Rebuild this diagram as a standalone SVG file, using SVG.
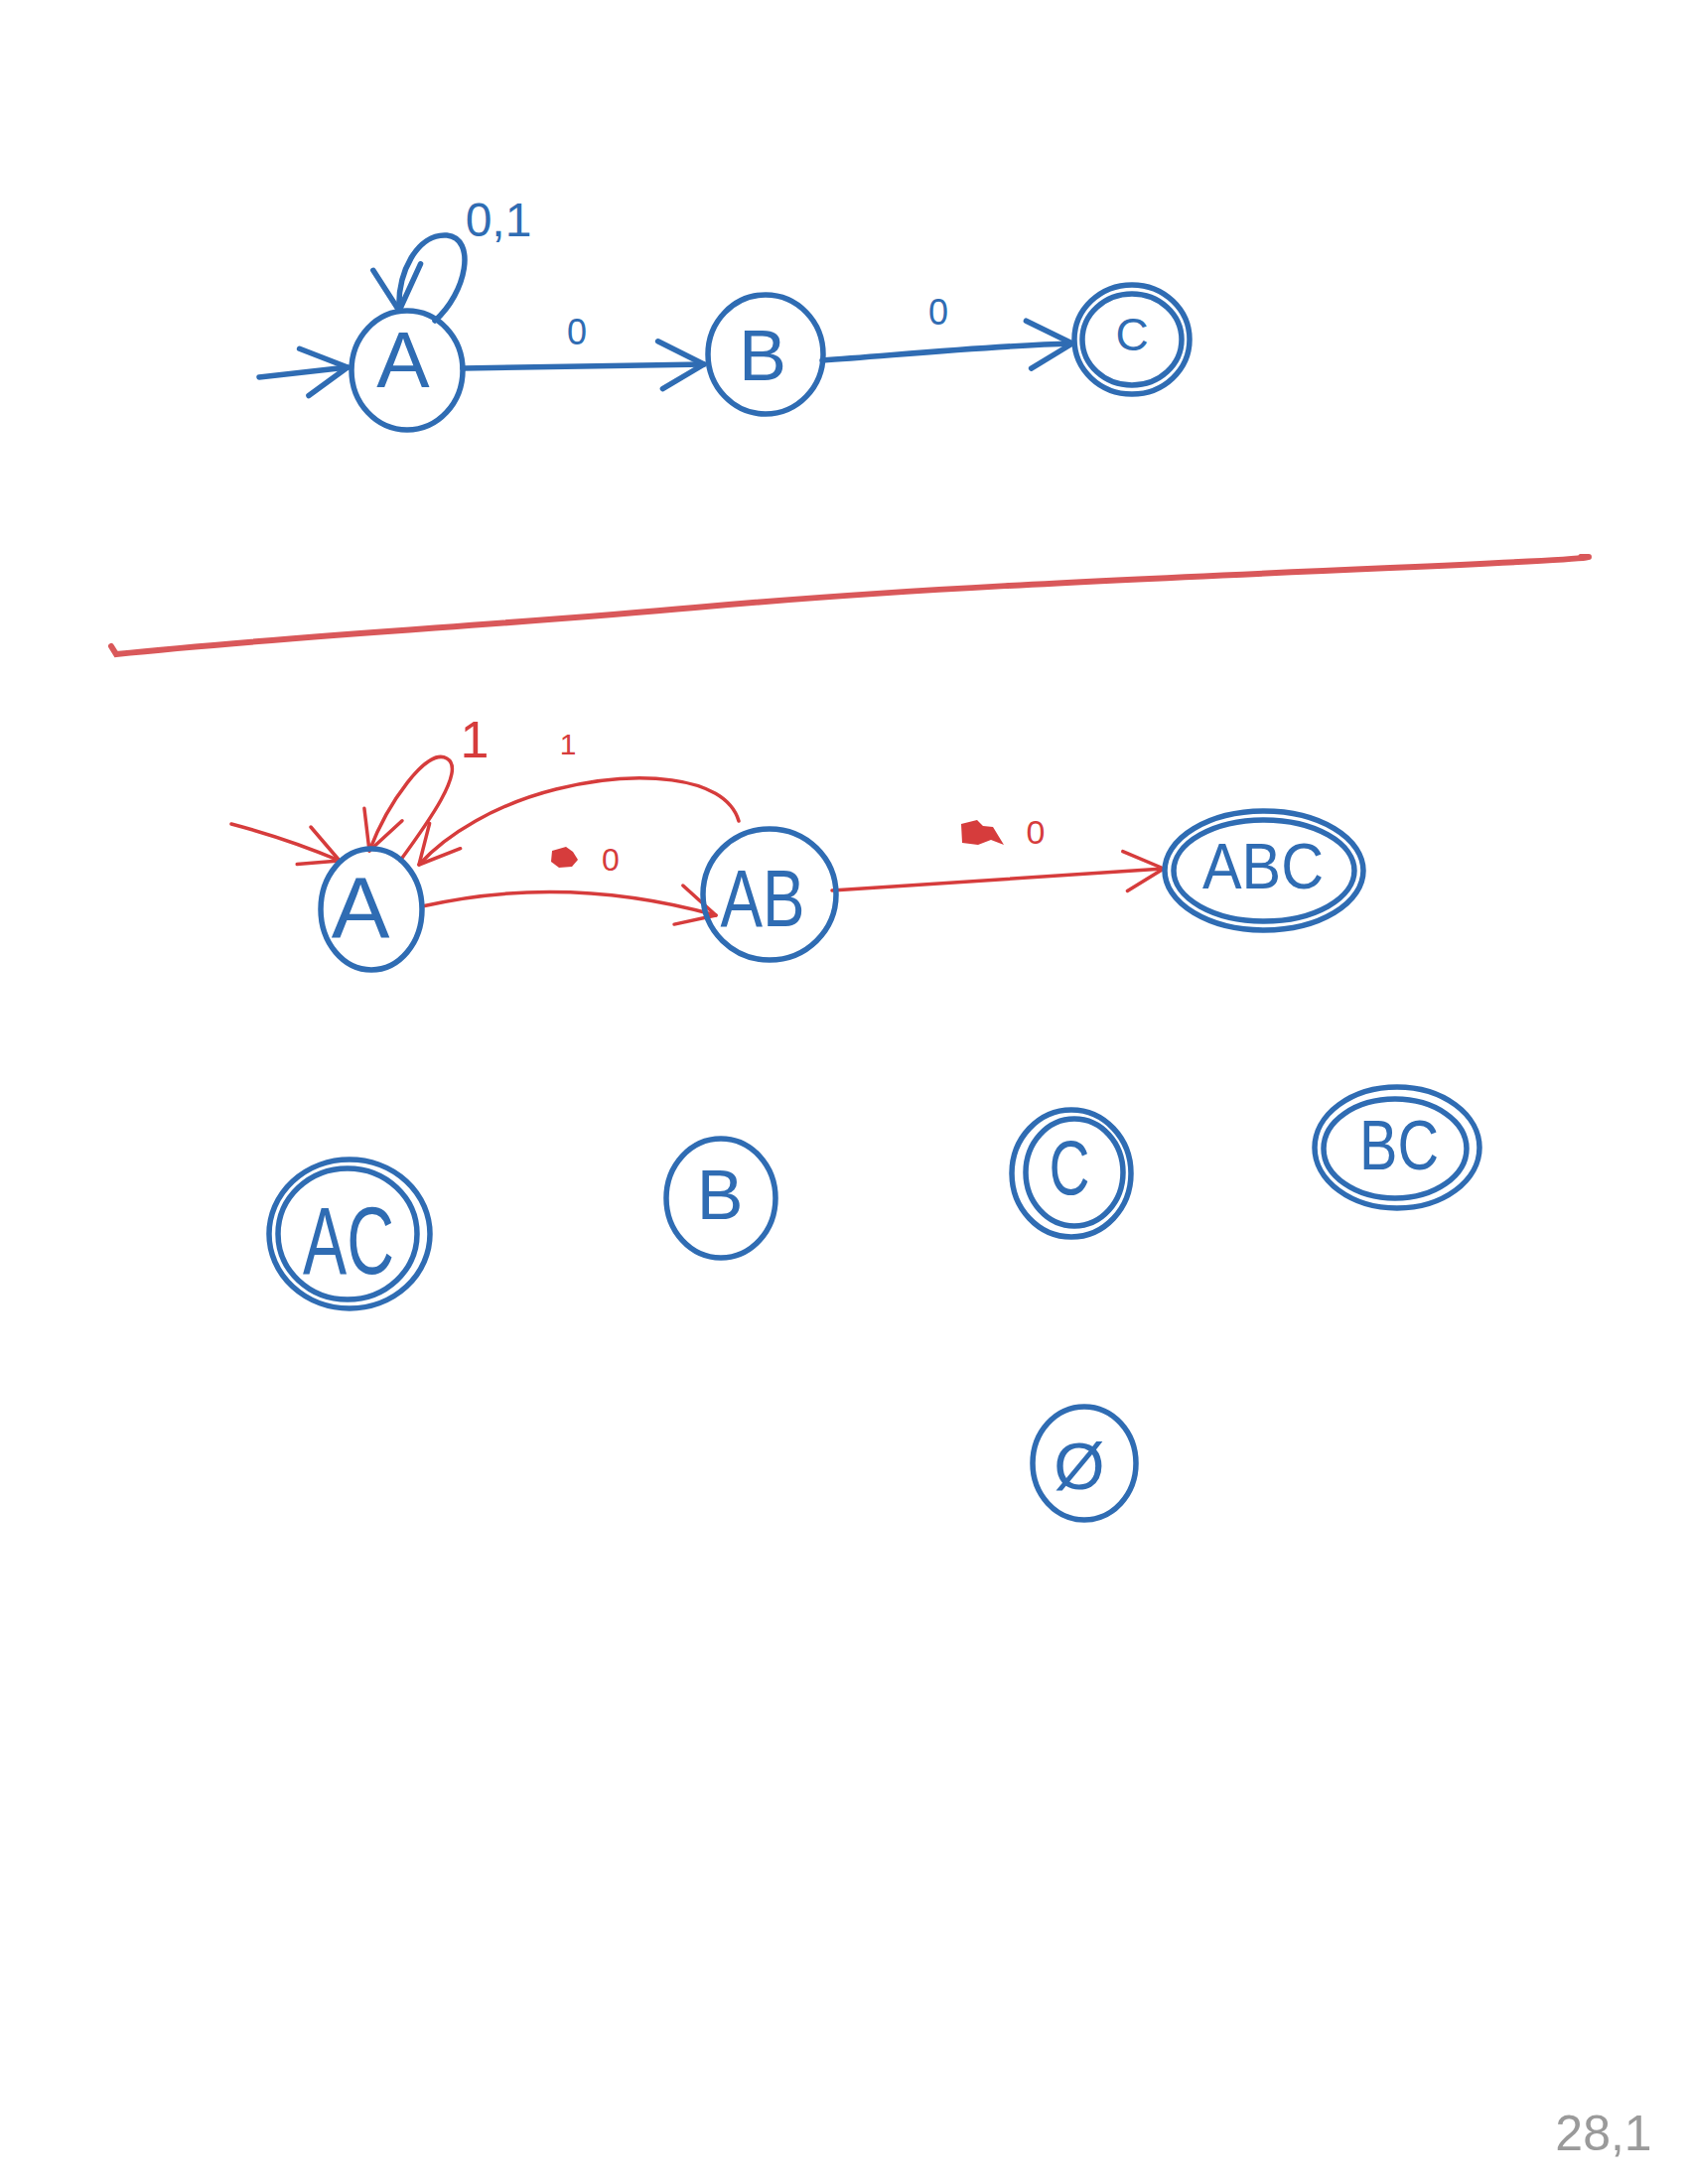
<svg xmlns="http://www.w3.org/2000/svg" width="1700" height="2200" viewBox="0 0 1700 2200">
<defs>
<style>
.bl{fill:none;stroke:#2f6cb3;stroke-width:5.5;stroke-linecap:round}
.rd{fill:none;stroke:#d63c3c;stroke-width:3.5;stroke-linecap:round}
.tb{font-family:"Liberation Sans",Arial,sans-serif;fill:#2f6cb3;text-anchor:middle}
.tr{font-family:"Liberation Sans",Arial,sans-serif;fill:#d63c3c;text-anchor:middle}
.blob{fill:#d63c3c}
</style>
<marker id="ab" markerUnits="userSpaceOnUse" viewBox="-50 -30 56 60" refX="0" refY="0" markerWidth="56" markerHeight="60" orient="auto">
<path d="M -46 -24 L 0 0 L -42 24" fill="none" stroke="#2f6cb3" stroke-width="5.5" stroke-linecap="round" stroke-linejoin="round"/>
</marker>
<marker id="ar" markerUnits="userSpaceOnUse" viewBox="-50 -30 56 60" refX="0" refY="0" markerWidth="56" markerHeight="60" orient="auto">
<path d="M -40 -20 L 0 0 L -38 20" fill="none" stroke="#d63c3c" stroke-width="3.5" stroke-linecap="round" stroke-linejoin="round"/>
</marker>
</defs>
<rect width="1700" height="2200" fill="#ffffff"/>

<!-- divider -->
<path d="M 112 651 L 117 659 C 300 640, 500 630, 700 612 S 1100 585, 1400 572 S 1560 561, 1600 561" fill="none" stroke="#d9585a" stroke-width="6" stroke-linecap="round"/>

<g id="connectors">
<!-- top NFA -->
<path class="bl" d="M 261 380 L 350 370" marker-end="url(#ab)"/>
<path class="bl" d="M 438 323 C 470 295, 480 240, 450 237 C 420 235, 400 275, 402 313" marker-end="url(#ab)"/>
<path class="bl" d="M 466 371 L 709 367" marker-end="url(#ab)"/>
<path class="bl" d="M 828 363 C 900 358, 1000 348, 1080 346" marker-end="url(#ab)"/>
<!-- bottom DFA -->
<path class="rd" d="M 233 830 Q 290 845 342 867" marker-end="url(#ar)"/>
<path class="rd" d="M 403 867 C 430 830, 470 775, 450 764 C 430 752, 390 810, 372 857" marker-end="url(#ar)"/>
<path class="rd" d="M 744 827 C 730 780, 640 775, 560 795 C 500 810, 450 840, 422 871" marker-end="url(#ar)"/>
<path class="rd" d="M 425 913 Q 570 880 721 922" marker-end="url(#ar)"/>
<path class="rd" d="M 838 897 L 1172 875" marker-end="url(#ar)"/>
</g>

<g id="labels">
<text class="tb" x="502" y="238" font-size="48">0,1</text>
<text class="tb" x="581" y="347" font-size="36">0</text>
<text class="tb" x="945" y="327" font-size="36">0</text>
<text class="tr" x="478" y="763" font-size="52">1</text>
<text class="tr" x="572" y="760" font-size="30">1</text>
<path class="blob" d="M 556 857 L 570 853 L 577 858 L 582 866 L 576 873 L 563 874 L 555 868 Z"/>
<text class="tr" x="615" y="877" font-size="32">0</text>
<path class="blob" d="M 968 830 L 984 826 L 990 832 L 1000 833 L 1011 851 L 998 846 L 985 851 L 969 849 Z"/>
<text class="tr" x="1043" y="850" font-size="34">0</text>
</g>

<g id="nfa-A">
<ellipse class="bl" cx="410" cy="373" rx="56" ry="60"/>
<text class="tb" x="406" y="390" font-size="80">A</text>
</g>
<g id="nfa-B">
<ellipse class="bl" cx="771" cy="357" rx="58" ry="60"/>
<text class="tb" x="768" y="383" font-size="72">B</text>
</g>
<g id="nfa-C">
<ellipse class="bl" cx="1140" cy="342" rx="58" ry="55"/>
<ellipse class="bl" cx="1140" cy="342" rx="50" ry="46"/>
<text class="tb" x="1140" y="353" font-size="46">C</text>
</g>

<g id="dfa-A">
<ellipse class="bl" cx="374" cy="916" rx="51" ry="61"/>
<text class="tb" x="363" y="945" font-size="88">A</text>
</g>
<g id="dfa-AB">
<ellipse class="bl" cx="775" cy="901" rx="67" ry="66"/>
<text class="tb" x="768" y="933" font-size="82" textLength="85" lengthAdjust="spacingAndGlyphs">AB</text>
</g>
<g id="dfa-ABC">
<ellipse class="bl" cx="1273" cy="877" rx="100" ry="60"/>
<ellipse class="bl" cx="1273" cy="877" rx="91" ry="51"/>
<text class="tb" x="1272" y="895" font-size="65" textLength="122" lengthAdjust="spacingAndGlyphs">ABC</text>
</g>
<g id="dfa-AC">
<ellipse class="bl" cx="352" cy="1243" rx="81" ry="75"/>
<ellipse class="bl" cx="350" cy="1243" rx="70" ry="66"/>
<text class="tb" x="351" y="1283" font-size="96" textLength="92" lengthAdjust="spacingAndGlyphs">AC</text>
</g>
<g id="dfa-B">
<ellipse class="bl" cx="726" cy="1207" rx="55" ry="60"/>
<text class="tb" x="725" y="1228" font-size="70">B</text>
</g>
<g id="dfa-C">
<ellipse class="bl" cx="1079" cy="1182" rx="60" ry="64"/>
<ellipse class="bl" cx="1082" cy="1181" rx="49" ry="54"/>
<text class="tb" x="1077" y="1203" font-size="78" textLength="41" lengthAdjust="spacingAndGlyphs">C</text>
</g>
<g id="dfa-BC">
<ellipse class="bl" cx="1407" cy="1156" rx="83" ry="61"/>
<ellipse class="bl" cx="1405" cy="1157" rx="72" ry="50"/>
<text class="tb" x="1409" y="1178" font-size="70" textLength="80" lengthAdjust="spacingAndGlyphs">BC</text>
</g>
<g id="dfa-empty">
<ellipse class="bl" cx="1092" cy="1474" rx="52" ry="57"/>
<text class="tb" x="1087" y="1500" font-size="66">Ø</text>
</g>

<text x="1615" y="2166" font-family="'Liberation Sans',Arial,sans-serif" font-size="50" fill="#9a9a9a" text-anchor="middle">28,1</text>
</svg>
